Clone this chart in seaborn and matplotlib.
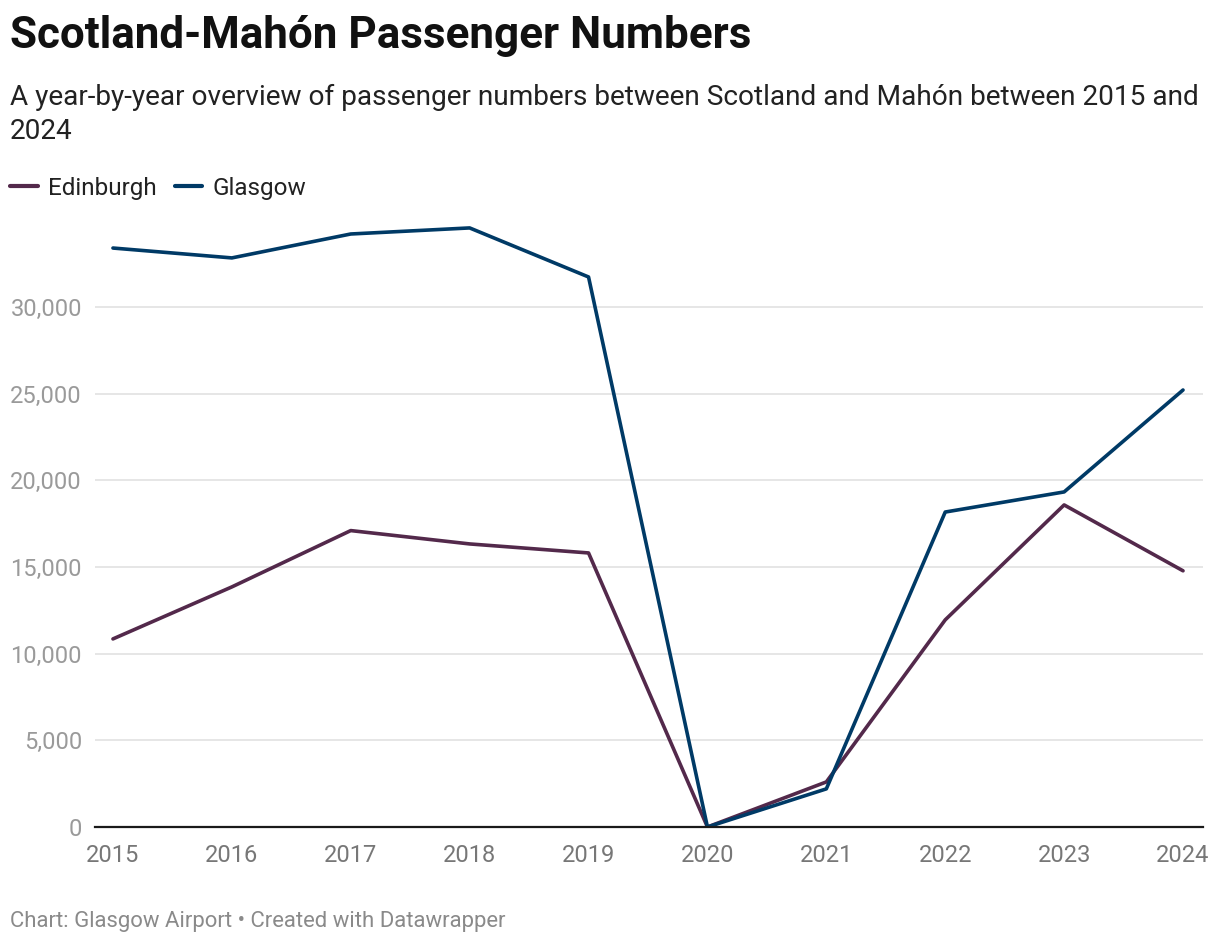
import matplotlib
matplotlib.use("Agg")
import matplotlib.pyplot as plt
import seaborn as sns
import pandas as pd
from matplotlib.ticker import FuncFormatter
from matplotlib.lines import Line2D

years = [2015, 2016, 2017, 2018, 2019, 2020, 2021, 2022, 2023, 2024]
edinburgh = [10850, 13850, 17100, 16330, 15810, 0, 2600, 11950, 18580, 14780]
glasgow = [33400, 32830, 34210, 34560, 31730, 0, 2200, 18170, 19330, 25210]
series_names = ["Edinburgh", "Glasgow"]
colors = {"Edinburgh": "#53294b", "Glasgow": "#003a66"}
y_ticks = [0, 5000, 10000, 15000, 20000, 25000, 30000]

df = pd.DataFrame({
    "year": years * 2,
    "value": edinburgh + glasgow,
    "airport": ["Edinburgh"] * len(years) + ["Glasgow"] * len(years),
})

sns.set_theme(style="white")
plt.rcParams["font.family"] = ["Roboto", "DejaVu Sans"]

fig = plt.figure(figsize=(12.2, 9.44), dpi=100)
ax = fig.add_axes([95 / 1220, 117 / 944, (1203 - 95) / 1220, (827 - 220.3) / 944])

sns.lineplot(data=df, x="year", y="value", hue="airport", palette=colors,
             linewidth=2.6, ax=ax, legend=False, zorder=3)

ax.set_xlim(2014.849, 2024.168)
ax.set_ylim(0, 35000)
ax.set_yticks(y_ticks)
ax.yaxis.set_major_formatter(FuncFormatter(lambda v, p: f"{int(v):,}"))
ax.set_xticks(years)
ax.set_xticklabels([str(y) for y in years])
ax.set_xlabel("")
ax.set_ylabel("")
for s in ["top", "right", "left"]:
    ax.spines[s].set_visible(False)
ax.spines["bottom"].set_color("#1a1a1a")
ax.spines["bottom"].set_linewidth(1.6)
ax.spines["bottom"].set_zorder(4)
ax.grid(axis="y", color="#e2e2e2", linewidth=1.2, zorder=0)
ax.grid(axis="x", visible=False)
ax.tick_params(axis="y", length=0, pad=9.4, labelsize=17, labelcolor="#9a9a9a")
ax.tick_params(axis="x", length=0, pad=12.5, labelsize=17, labelcolor="#777777")

fig.text(10 / 1220, 1 - 36 / 944, "Scotland-Mahón Passenger Numbers", fontsize=31.7,
         fontweight="bold", color="#111111", va="center", ha="left")
fig.text(10 / 1220, 1 - 84 / 944,
         "A year-by-year overview of passenger numbers between Scotland and Mahón between 2015 and\n2024",
         fontsize=20.2, color="#222222", va="top", ha="left", linespacing=1.32)
fig.text(10 / 1220, 1 - 921 / 944, "Chart: Glasgow Airport • Created with Datawrapper",
         fontsize=15.9, color="#8a8a8a", va="center", ha="left")

handles = [Line2D([0], [0], color=colors[n], linewidth=3) for n in series_names]
fig.legend(handles, series_names, loc="center left", bbox_to_anchor=(10 / 1220, 1 - 188 / 944),
           ncol=2, frameon=False, fontsize=17.5, handlelength=1.15, handletextpad=0.4,
           columnspacing=0.75, borderpad=0, borderaxespad=0, labelcolor="#222222")

fig.savefig("out.png", dpi=100)
